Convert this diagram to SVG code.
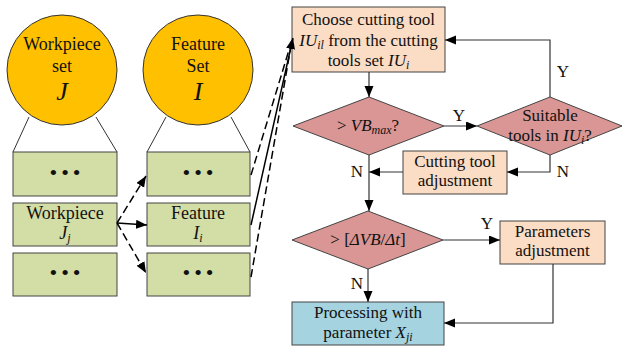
<svg xmlns="http://www.w3.org/2000/svg" width="623" height="346" viewBox="0 0 623 346">
  <style>
    text { fill: #111; }
    .c { text-anchor: middle; }
    .t18 { font-size: 18px; }
    .t17 { font-size: 17px; }
    .it { font-style: italic; }
    .set { fill: #FFC000; stroke: #333; stroke-width: 1; }
    .elem { fill: #D3DDA6; stroke: #444; stroke-width: 1; }
    .step { fill: #FBDCC4; stroke: #444; stroke-width: 1; }
    .dec { fill: #D99694; stroke: #444; stroke-width: 1; }
    .out { fill: #A5D3E0; stroke: #444; stroke-width: 1; }
    .thin { stroke: #333; stroke-width: 1; fill: none; }
    .flow { stroke: #333; stroke-width: 1.2; fill: none; }
    .link { stroke: #000; stroke-width: 1.5; fill: none; }
    .dash { stroke-dasharray: 8 4; }
    .dots { font-size: 22px; letter-spacing: 4px; }
  </style>
  <defs>
    <marker id="ah" markerUnits="userSpaceOnUse" markerWidth="12" markerHeight="10" refX="11" refY="4.5" orient="auto">
      <path d="M0,0 L11,4.5 L0,9 z" fill="#000"/>
    </marker>
  </defs>

  <!-- set circles with their element lists -->
  <g id="workpiece-set">
    <line class="thin" x1="29" y1="117" x2="13" y2="152"/>
    <line class="thin" x1="96" y1="117" x2="117" y2="152"/>
    <circle class="set" cx="62" cy="70" r="55"/>
    <text font-family="Liberation Serif, serif" class="c t18" x="62" y="50">Workpiece</text>
    <text font-family="Liberation Serif, serif" class="c t18" x="62" y="72">set</text>
    <text font-family="Liberation Serif, serif" class="c it" x="62" y="100" font-size="26">J</text>
  </g>
  <g id="feature-set">
    <line class="thin" x1="166" y1="117" x2="147" y2="152"/>
    <line class="thin" x1="231" y1="117" x2="250" y2="152"/>
    <circle class="set" cx="198" cy="70" r="55"/>
    <text font-family="Liberation Serif, serif" class="c t18" x="198" y="50">Feature</text>
    <text font-family="Liberation Serif, serif" class="c t18" x="198" y="72">Set</text>
    <text font-family="Liberation Serif, serif" class="c it" x="198" y="100" font-size="26">I</text>
  </g>

  <g id="workpiece-more-top">
    <rect class="elem" x="13" y="152" width="104" height="44"/>
    <text font-family="Liberation Serif, serif" class="c dots" x="67" y="180">•••</text>
  </g>
  <g id="workpiece-j">
    <rect class="elem" x="13" y="203" width="104" height="43"/>
    <text font-family="Liberation Serif, serif" class="c t18" x="65" y="219">Workpiece</text>
    <text font-family="Liberation Serif, serif" class="c it" x="65" y="239" font-size="18">J<tspan font-size="12" dy="3">j</tspan></text>
  </g>
  <g id="workpiece-more-bottom">
    <rect class="elem" x="13" y="253" width="104" height="43"/>
    <text font-family="Liberation Serif, serif" class="c dots" x="67" y="280">•••</text>
  </g>

  <g id="feature-more-top">
    <rect class="elem" x="147" y="152" width="103" height="44"/>
    <text font-family="Liberation Serif, serif" class="c dots" x="200" y="180">•••</text>
  </g>
  <g id="feature-i">
    <rect class="elem" x="147" y="203" width="103" height="43"/>
    <text font-family="Liberation Serif, serif" class="c t18" x="198" y="219">Feature</text>
    <text font-family="Liberation Serif, serif" class="c it" x="198" y="239" font-size="18">I<tspan font-size="12" dy="3">i</tspan></text>
  </g>
  <g id="feature-more-bottom">
    <rect class="elem" x="147" y="253" width="103" height="43"/>
    <text font-family="Liberation Serif, serif" class="c dots" x="200" y="280">•••</text>
  </g>

  <!-- flowchart steps -->
  <g id="choose-tool">
    <rect class="step" x="292" y="7" width="153" height="65"/>
    <text font-family="Liberation Serif, serif" class="c t17" x="368.5" y="25">Choose cutting tool</text>
    <text font-family="Liberation Serif, serif" class="c t17" x="368.5" y="46"><tspan class="it">IU</tspan><tspan class="it" font-size="12" dy="3">il</tspan><tspan dy="-3"> from the cutting</tspan></text>
    <text font-family="Liberation Serif, serif" class="c t17" x="368.5" y="66">tools set <tspan class="it">IU</tspan><tspan class="it" font-size="12" dy="3">i</tspan></text>
  </g>
  <g id="check-vb">
    <polygon class="dec" points="293,126 369,97 444,126 369,155"/>
    <text font-family="Liberation Serif, serif" class="c t17" x="368" y="131">&gt; <tspan class="it">VB</tspan><tspan class="it" font-size="12" dy="3">max</tspan><tspan dy="-3">?</tspan></text>
  </g>
  <g id="suitable-tools">
    <polygon class="dec" points="477,126 550,97 622,126 550,155"/>
    <text font-family="Liberation Serif, serif" class="c t17" x="550" y="121">Suitable</text>
    <text font-family="Liberation Serif, serif" class="c t17" x="550" y="141">tools in <tspan class="it">IU</tspan><tspan class="it" font-size="12" dy="3">i</tspan><tspan dy="-3">?</tspan></text>
  </g>
  <g id="tool-adjustment">
    <rect class="step" x="403" y="151" width="104" height="43"/>
    <text font-family="Liberation Serif, serif" class="c t17" x="455" y="167">Cutting tool</text>
    <text font-family="Liberation Serif, serif" class="c t17" x="455" y="186">adjustment</text>
  </g>
  <g id="check-rate">
    <polygon class="dec" points="292,240 368,211 443,240 368,269"/>
    <text font-family="Liberation Serif, serif" class="c t17" x="368" y="245">&gt; [<tspan class="it">ΔVB</tspan>/<tspan class="it">Δt</tspan>]</text>
  </g>
  <g id="parameter-adjustment">
    <rect class="step" x="500" y="221" width="105" height="43"/>
    <text font-family="Liberation Serif, serif" class="c t17" x="552.5" y="237">Parameters</text>
    <text font-family="Liberation Serif, serif" class="c t17" x="552.5" y="256">adjustment</text>
  </g>
  <g id="processing">
    <rect class="out" x="292" y="302" width="152" height="43"/>
    <text font-family="Liberation Serif, serif" class="c t17" x="368" y="318">Processing with</text>
    <text font-family="Liberation Serif, serif" class="c t17" x="368" y="338">parameter <tspan class="it">X</tspan><tspan class="it" font-size="12" dy="3">ji</tspan></text>
  </g>

  <!-- connectors -->
  <g id="connectors">
    <line class="link dash" x1="117" y1="223" x2="146" y2="176" marker-end="url(#ah)"/>
    <line class="link" x1="117" y1="223" x2="147" y2="225" marker-end="url(#ah)"/>
    <line class="link dash" x1="117" y1="223" x2="146" y2="273" marker-end="url(#ah)"/>

    <line class="link dash" x1="251" y1="175" x2="292" y2="40"/>
    <line class="link dash" x1="251" y1="277" x2="292" y2="40"/>
    <line class="link" x1="251" y1="225" x2="293" y2="38" marker-end="url(#ah)"/>

    <line class="flow" x1="369" y1="72" x2="369" y2="97" marker-end="url(#ah)"/>
    <line class="flow" x1="444" y1="126" x2="477" y2="126" marker-end="url(#ah)"/>
    <polyline class="flow" points="550,97 550,40 445,40" marker-end="url(#ah)"/>
    <polyline class="flow" points="550,155 550,172 507,172" marker-end="url(#ah)"/>
    <line class="flow" x1="403" y1="172" x2="369" y2="172" marker-end="url(#ah)"/>
    <line class="flow" x1="369" y1="155" x2="369" y2="211" marker-end="url(#ah)"/>
    <line class="flow" x1="443" y1="240" x2="500" y2="240" marker-end="url(#ah)"/>
    <line class="flow" x1="368" y1="269" x2="368" y2="302" marker-end="url(#ah)"/>
    <polyline class="flow" points="553,264 553,323 444,323" marker-end="url(#ah)"/>

    <text font-family="Liberation Serif, serif" class="c t17" x="459" y="121">Y</text>
    <text font-family="Liberation Serif, serif" class="c t17" x="563" y="77">Y</text>
    <text font-family="Liberation Serif, serif" class="c t17" x="563" y="177">N</text>
    <text font-family="Liberation Serif, serif" class="c t17" x="357" y="177">N</text>
    <text font-family="Liberation Serif, serif" class="c t17" x="487" y="229">Y</text>
    <text font-family="Liberation Serif, serif" class="c t17" x="357" y="289">N</text>
  </g>
</svg>
